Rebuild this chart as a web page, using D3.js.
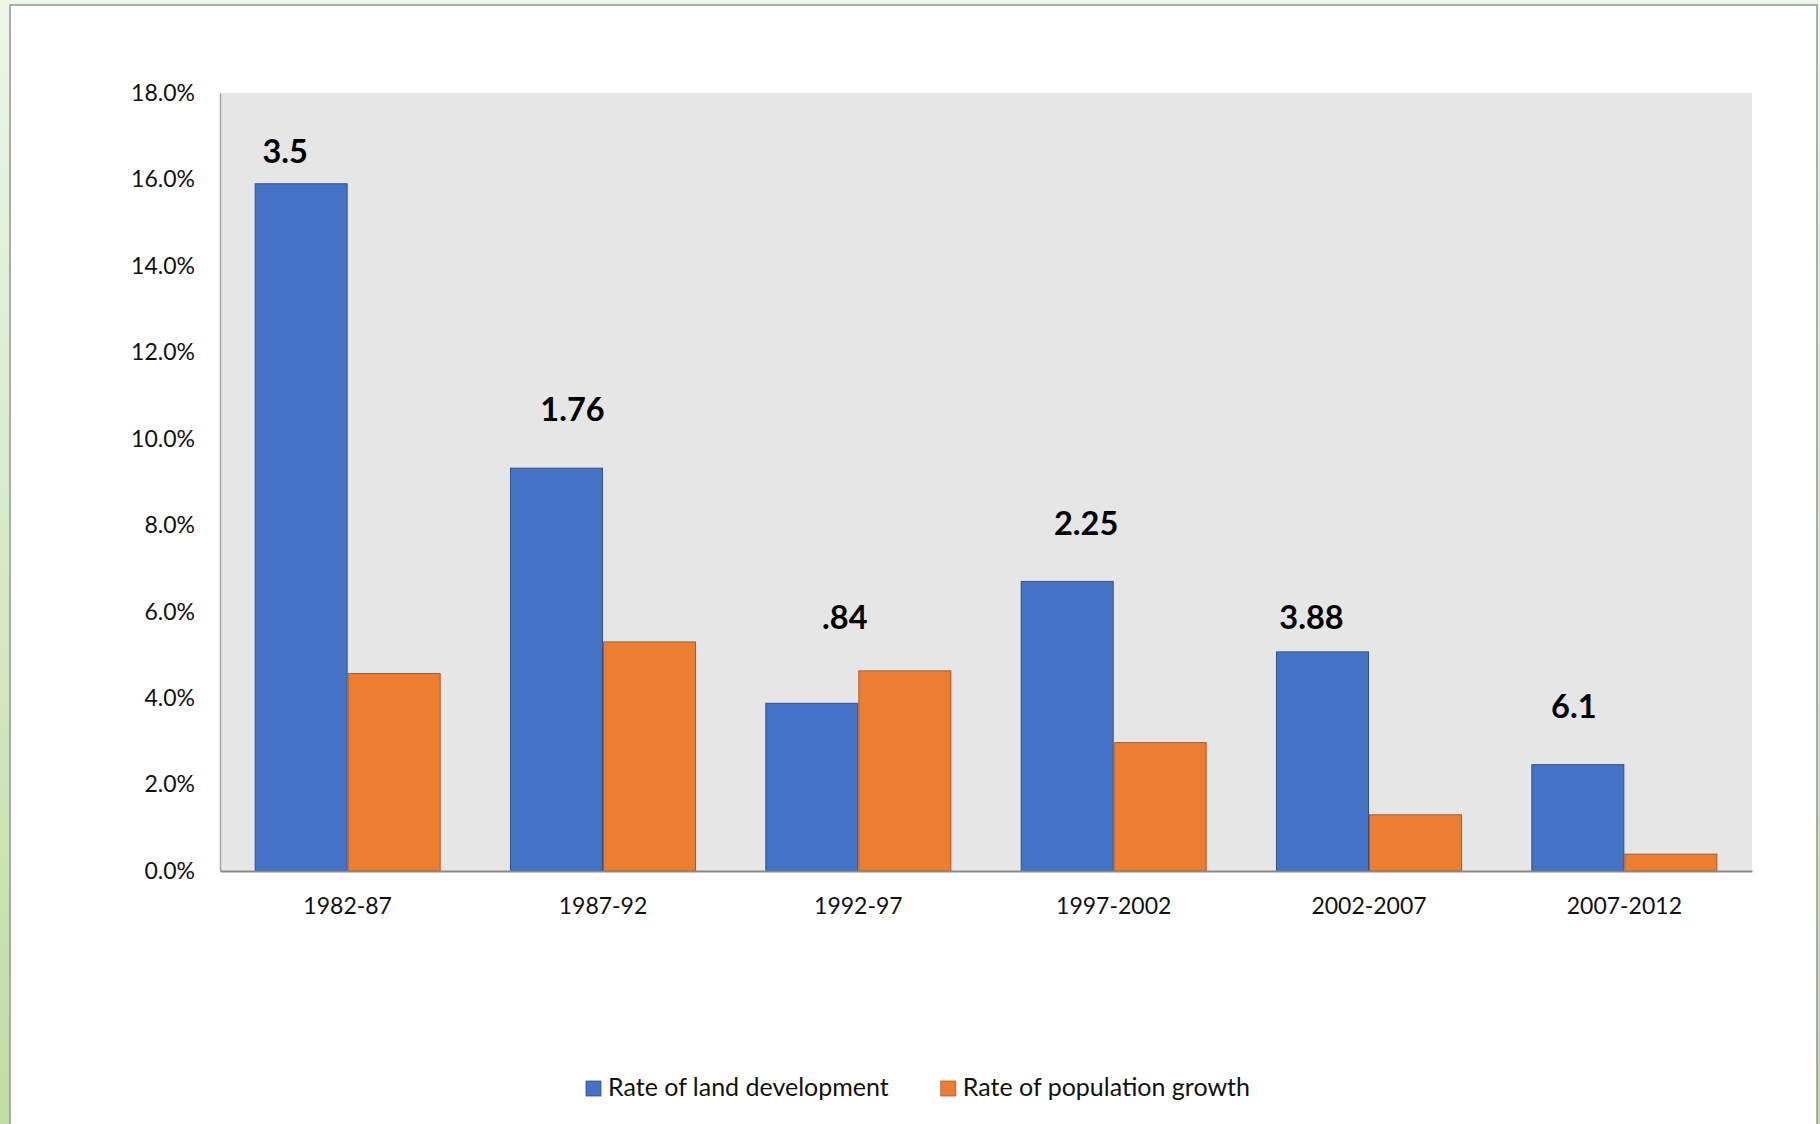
<!DOCTYPE html>
<html>
<head>
<meta charset="utf-8">
<script src="https://cdn.jsdelivr.net/npm/d3@7"></script>
<style>
  html, body { margin: 0; padding: 0; }
  body { width: 1820px; height: 1124px; overflow: hidden;
         background: linear-gradient(to bottom, #eef5e8 0%, #d8ebca 45%, #bfdda6 100%); }
  svg { display: block; font-family: Lato, "Open Sans", sans-serif; }
</style>
</head>
<body>
<svg id="chart" width="1820" height="1124"></svg>
<script>
// Periods and growth rates (percent per period)
const categories = ["1982-87", "1987-92", "1992-97", "1997-2002", "2002-2007", "2007-2012"];
const seriesNames = ["Rate of land development", "Rate of population growth"];
const landDevelopment = [15.9, 9.32, 3.88, 6.70, 5.07, 2.46];
const populationGrowth = [4.57, 5.30, 4.63, 2.97, 1.30, 0.39];
// Ratio of land development to population growth, as annotated
const ratioLabels = ["3.5", "1.76", ".84", "2.25", "3.88", "6.1"];
const yTicks = [0, 2, 4, 6, 8, 10, 12, 14, 16, 18];

// Hand-placed annotation offsets (relative to the land bar centre / tallest bar top)
const labelNudge = [[-16, -21], [16, -47], [33, -42], [19, -46], [-11, -23], [-4, -47]];

const colors = { fill: ["#4472C4", "#ED7D31"], stroke: ["#2F528F", "#AE5A21"] };

const svg = d3.select("#chart");

// white chart panel
svg.append("rect")
  .attr("x", 10).attr("y", 5).attr("width", 1807).attr("height", 1130)
  .attr("fill", "#ffffff").attr("stroke", "#9a9a9a").attr("stroke-width", 1.6);

const plot = { left: 220, right: 1752, top: 93, bottom: 871 };

const x0 = d3.scaleBand().domain(categories)
  .range([plot.left, plot.right])
  .paddingInner(0.2715).paddingOuter(0.13575);
const x1 = d3.scaleBand().domain(seriesNames).range([0, x0.bandwidth()]);
const y = d3.scaleLinear().domain([0, 18]).range([plot.bottom, plot.top]);

// plot background
svg.append("rect")
  .attr("x", plot.left).attr("y", plot.top)
  .attr("width", plot.right - plot.left).attr("height", plot.bottom - plot.top)
  .attr("fill", "#e6e6e6");

const rows = categories.map((c, i) => ({
  cat: c, i,
  values: [landDevelopment[i], populationGrowth[i]]
}));

const groups = svg.append("g").selectAll("g").data(rows).join("g")
  .attr("transform", d => `translate(${x0(d.cat)},0)`);

groups.selectAll("rect")
  .data(d => d.values.map((v, k) => ({ v, k })))
  .join("rect")
  .attr("x", d => x1(seriesNames[d.k]) + 0.5)
  .attr("y", d => y(d.v))
  .attr("width", x1.bandwidth() - 1)
  .attr("height", d => y(0) - y(d.v))
  .attr("fill", d => colors.fill[d.k])
  .attr("stroke", d => colors.stroke[d.k])
  .attr("stroke-width", 1);

// y axis
const yAxis = svg.append("g")
  .attr("transform", `translate(${plot.left},0)`)
  .call(d3.axisLeft(y).tickValues(yTicks)
    .tickFormat(d => d.toFixed(1) + "%").tickSize(0).tickPadding(25));
yAxis.select(".domain").attr("stroke", "#a0a0a0").attr("stroke-width", 1.4);
yAxis.selectAll("text").attr("font-size", 23).attr("fill", "#111")
  .attr("font-family", "Lato, sans-serif");

// x axis
const xAxis = svg.append("g")
  .attr("transform", `translate(0,${plot.bottom})`)
  .call(d3.axisBottom(x0).tickSize(0).tickPadding(27));
xAxis.select(".domain").attr("stroke", "#8a8a8a").attr("stroke-width", 2);
xAxis.selectAll("text").attr("font-size", 23).attr("fill", "#111")
  .attr("font-family", "Lato, sans-serif");

// ratio annotations
svg.append("g").selectAll("text").data(rows).join("text")
  .attr("x", d => x0(d.cat) + x1(seriesNames[0]) + x1.bandwidth() / 2 + labelNudge[d.i][0])
  .attr("y", d => y(Math.max(...d.values)) + labelNudge[d.i][1])
  .attr("text-anchor", "middle")
  .attr("font-size", 32.5).attr("font-weight", 700).attr("fill", "#000")
  .text(d => ratioLabels[d.i]);

// legend
const legend = svg.append("g");
const items = legend.selectAll("g").data(seriesNames).join("g");
items.append("rect")
  .attr("width", 15).attr("height", 15).attr("y", -15)
  .attr("fill", (d, k) => colors.fill[k])
  .attr("stroke", (d, k) => colors.stroke[k]).attr("stroke-width", 0.8);
items.append("text")
  .attr("x", 22).attr("font-size", 25).attr("fill", "#111")
  .text(d => d);
let cursor = 0;
items.each(function () {
  d3.select(this).attr("transform", `translate(${cursor},0)`);
  cursor += this.getBBox().width + 52;
});
const legendWidth = cursor - 52;
legend.attr("transform", `translate(${918 - legendWidth / 2},1096)`);
</script>
</body>
</html>
